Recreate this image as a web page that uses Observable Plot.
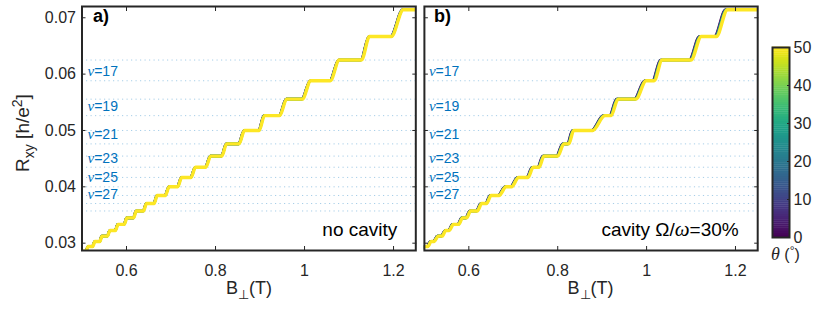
<!DOCTYPE html>
<html><head><meta charset="utf-8">
<script src="https://cdn.jsdelivr.net/npm/d3@7"></script>
<script src="https://cdn.jsdelivr.net/npm/@observablehq/plot@0.6"></script>
<style>
body{margin:0;background:#fff;}
#fig{position:relative;width:830px;height:317px;overflow:hidden;background:#fff;font-family:"Liberation Sans",Arial,sans-serif;}
#fig > div{position:absolute;top:0;}
</style></head><body>
<div id="fig"><div id="pa" style="left:0;width:419px"></div><div id="pb" style="left:419px;width:341px"></div><div id="pc" style="left:760px;width:70px"></div></div>
<script>
// ---- data ----
const thetas = [0, 10, 20, 30, 40, 50];
const thetaScaleA = [0.9985, 0.9988, 0.9991, 0.9994, 0.9997, 1];
const thetaScaleB = [0.996, 0.9968, 0.9976, 0.9984, 0.9992, 1];
const plateauNu = [36,35,34,33,32,31,30,29,28,27,26,25,24,23,22,21,20,19,18,17,16,15,14];
const plateauStartA = [0.485,0.499,0.514,0.529,0.545,0.563,0.581,0.601,0.622,0.645,0.669,0.696,0.724,0.755,0.789,0.825,0.865,0.910,0.960,1.014,1.078,1.146,1.222];
const plateauEndA   = [0.494,0.509,0.524,0.540,0.557,0.575,0.595,0.616,0.638,0.662,0.687,0.715,0.745,0.778,0.814,0.853,0.898,0.944,0.995,1.058,1.128,1.195,1.300];
const plateauStartB = [0.472,0.486,0.500,0.515,0.531,0.548,0.565,0.586,0.604,0.629,0.650,0.684,0.712,0.745,0.769,0.814,0.836,0.906,0.936,0.999,1.035,1.123,1.182];
const plateauEndB   = [0.479,0.493,0.508,0.522,0.540,0.556,0.577,0.595,0.619,0.640,0.668,0.696,0.733,0.758,0.800,0.825,0.879,0.920,0.976,1.017,1.100,1.157,1.300];
const dottedNu = [16,17,18,19,20,21,22,23,24,25,26,27,28];
const labelNu = [17,19,21,23,25,27];
const xTicks = [0.6, 0.8, 1, 1.2];
const yTicks = [0.03, 0.04, 0.05, 0.06, 0.07];
const cbarTicks = [0, 10, 20, 30, 40, 50];

const INK = "#262626";
const BLUE = "#0072BD";
const SANS = "Liberation Sans, Arial, sans-serif";
const SERIF = "Liberation Serif, DejaVu Serif, serif";

function buildPoints(starts, ends, scales) {
  const pts = [];
  thetas.forEach((th, k) => {
    plateauNu.forEach((nu, i) => {
      pts.push({theta: th, B: starts[i] * scales[k], R: 1 / nu});
      pts.push({theta: th, B: ends[i] * scales[k], R: 1 / nu});
    });
  });
  return pts;
}

function rich(svg, {x, y, anchor = "start", rotate = 0, size = 17, parts}) {
  const t = d3.select(svg).append("text")
    .attr("transform", `translate(${x},${y}) rotate(${rotate})`)
    .attr("text-anchor", anchor).attr("font-size", size)
    .attr("fill", INK).attr("font-family", SANS);
  let cur = 0;
  parts.forEach(p => {
    const s = t.append("tspan").text(p.t);
    const sh = p.shift || 0;
    if (sh !== cur) { s.attr("dy", sh - cur); cur = sh; }
    if (p.italic) s.attr("font-style", "italic");
    if (p.serif) s.attr("font-family", SERIF);
    if (p.size) s.attr("font-size", p.size);
  });
  return t;
}

function panel(pts, o) {
  return Plot.plot({
    width: o.width, height: 317,
    marginLeft: o.ml, marginRight: o.mr, marginTop: 6, marginBottom: 67,
    x: {domain: [0.5, 1.25], label: null},
    y: {domain: [0.0287, 0.072], label: null},
    color: {type: "linear", scheme: "viridis", domain: [0, 50]},
    style: {fontFamily: SANS, fontSize: "16px", color: INK, background: "transparent", overflow: "visible"},
    marks: [
      Plot.ruleY(dottedNu, {y: d => 1 / d, stroke: BLUE, strokeOpacity: 0.35, strokeDasharray: "1.2,3.3", strokeWidth: 1}),
      Plot.text(labelNu, {y: d => 1 / d, text: d => "ν=" + d, frameAnchor: "left", textAnchor: "start", lineAnchor: "middle", dx: o.nudx, dy: -9, fill: BLUE, fontSize: 14}),
      Plot.line(pts, {x: "B", y: "R", z: "theta", stroke: "theta", strokeWidth: d => d.theta === 50 ? 3.4 : 2.6, curve: "monotone-x", clip: true}),
      Plot.axisX(xTicks, {anchor: "bottom", tickSize: -4, tickPadding: 18, tickFormat: d => String(d), label: null}),
      Plot.axisX(xTicks, {anchor: "top", tickSize: -4, tickFormat: () => "", label: null}),
      Plot.axisY(yTicks, {anchor: "left", tickSize: -4, tickPadding: 10, tickFormat: o.ylabels ? (d => d.toFixed(2)) : (() => ""), label: null}),
      Plot.axisY(yTicks, {anchor: "right", tickSize: -4, tickFormat: () => "", label: null}),
      Plot.text([o.tag], {frameAnchor: "top-left", textAnchor: "start", lineAnchor: "middle", dx: o.tagdx, dy: 10, fontWeight: "bold", fontSize: 18, fill: "#000"}),
      Plot.text([o.note], {frameAnchor: "bottom-right", textAnchor: "end", lineAnchor: "middle", dx: o.notedx, dy: -21, fontSize: 19, fill: "#000"}),
      Plot.frame({stroke: INK, strokeWidth: 2})
    ]
  });
}

function fixTexts(svg) {
  d3.select(svg).selectAll("text").each(function() {
    const s = this.textContent;
    const sel = d3.select(this);
    if (s.startsWith("ν=")) {
      this.textContent = "";
      sel.append("tspan").attr("font-style", "italic").attr("font-family", SERIF).attr("font-size", 15).text("ν");
      sel.append("tspan").text(s.slice(1));
    } else if (s === "cavity Ω/ω=30%") {
      this.textContent = "";
      sel.append("tspan").text("cavity Ω/");
      sel.append("tspan").attr("font-style", "italic").attr("font-family", SERIF).attr("font-size", 21).text("ω");
      sel.append("tspan").text("=30%");
    }
  });
}

// Panel a
const A = panel(buildPoints(plateauStartA, plateauEndA, thetaScaleA),
  {width: 419, ml: 81.5, mr: 3.7, ylabels: true, tag: "a)", note: "no cavity", nudx: 5.5, tagdx: 11, notedx: -18.5});
fixTexts(A);
rich(A, {x: 29, y: 133, anchor: "middle", rotate: -90, size: 19, parts: [
  {t: "R"}, {t: "xy", shift: 5, size: 14}, {t: " [h/e", shift: 0}, {t: "2", shift: -7, size: 14}, {t: "]", shift: 0}]});
rich(A, {x: 249, y: 294, anchor: "middle", size: 18, parts: [
  {t: "B"}, {t: "⊥", shift: 5, size: 13}, {t: "(T)", shift: 0}]});
document.getElementById("pa").appendChild(A);

// Panel b
const Bp = panel(buildPoints(plateauStartB, plateauEndB, thetaScaleB),
  {width: 341, ml: 4.9, mr: 2.8, ylabels: false, tag: "b)", note: "cavity Ω/ω=30%", nudx: 4.5, tagdx: 9.5, notedx: -19});
fixTexts(Bp);
rich(Bp, {x: 590.5 - 419, y: 294, anchor: "middle", size: 18, parts: [
  {t: "B"}, {t: "⊥", shift: 5, size: 13}, {t: "(T)", shift: 0}]});
document.getElementById("pb").appendChild(Bp);

// Colorbar
const ramp = d3.range(0, 50, 0.5);
const C = Plot.plot({
  width: 70, height: 317, marginLeft: 12, marginRight: 41, marginTop: 47, marginBottom: 80,
  x: {axis: null},
  y: {domain: [0, 50], label: null},
  color: {type: "linear", scheme: "viridis", domain: [0, 50]},
  style: {fontFamily: SANS, fontSize: "16px", color: INK, background: "transparent", overflow: "visible"},
  marks: [
    Plot.rect(ramp, {y1: d => d, y2: d => d + 0.6, fill: d => d + 0.25}),
    Plot.axisY(cbarTicks, {anchor: "right", tickSize: -3, tickPadding: 7, label: null}),
    Plot.frame({stroke: INK, strokeWidth: 2})
  ]
});
rich(C, {x: 11, y: 260, anchor: "start", size: 16, parts: [
  {t: "θ", italic: true, serif: true, size: 18}, {t: " ("}, {t: "°", shift: -5, size: 12}, {t: ")", shift: 0}]});
document.getElementById("pc").appendChild(C);
</script>
</body></html>
